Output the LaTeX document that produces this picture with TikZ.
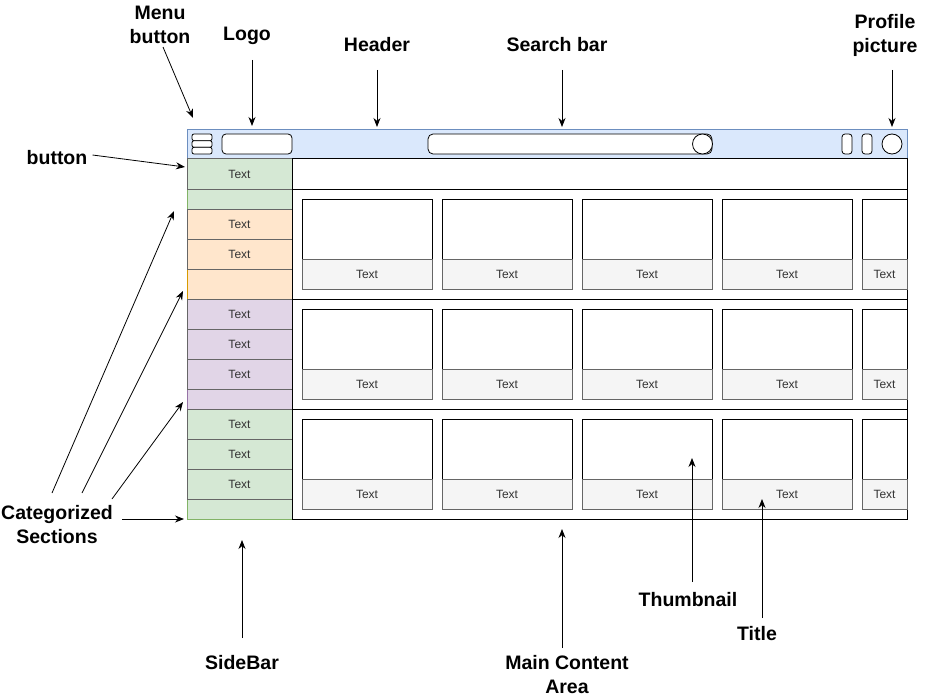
\documentclass[tikz,border=0pt]{standalone}
\usepackage{fontspec}
\setmainfont{Liberation Sans}
\usetikzlibrary{arrows.meta}
\definecolor{hdrfill}{HTML}{DAE8FC}
\definecolor{hdrline}{HTML}{6C8EBF}
\definecolor{gfill}{HTML}{D5E8D4}
\definecolor{gline}{HTML}{82B366}
\definecolor{ofill}{HTML}{FFE6CC}
\definecolor{oline}{HTML}{D79B00}
\definecolor{pfill}{HTML}{E1D5E7}
\definecolor{pline}{HTML}{9673A6}
\definecolor{cellline}{HTML}{666666}
\definecolor{txtgray}{HTML}{333333}
\definecolor{titlefill}{HTML}{F5F5F5}
\tikzset{
  box/.style={anchor=north west, inner sep=0pt, outer sep=0pt, line width=1pt},
  sect/.style={box, minimum width=105pt},
  cell/.style={box, draw=cellline, minimum width=105pt, minimum height=30pt,
    font=\fontsize{12}{14}\selectfont, text=txtgray},
  row/.style={box, draw=black, fill=white, minimum width=615pt},
  thumb/.style={box, draw=black, fill=white, minimum height=60pt},
  titlebox/.style={box, draw=cellline, fill=titlefill, minimum height=30pt,
    font=\fontsize{12}{14}\selectfont, text=txtgray},
  icon/.style={box, draw=black, fill=white, rounded corners=3pt, line width=0.8pt},
  ring/.style={circle, draw=black, fill=white, inner sep=0pt, minimum size=20pt, line width=0.8pt},
  lbl/.style={font=\bfseries\fontsize{19.5}{24}\selectfont, align=center, inner sep=0pt},
  conn/.style={-{Stealth[length=9pt,width=7pt]}, line width=0.8pt, black},
}
\begin{document}
\begin{tikzpicture}[x=1pt,y=-1pt]
\useasboundingbox (0,0) rectangle (940,698);
% header
\node[box, draw=hdrline, fill=hdrfill, minimum width=720pt, minimum height=29pt] (header) at (187,130) {};
\node[icon, minimum width=20pt, minimum height=6.67pt, rounded corners=2pt] (ham1) at (192,134) {};
\node[icon, minimum width=20pt, minimum height=6.67pt, rounded corners=2pt] (ham2) at (192,140.67) {};
\node[icon, minimum width=20pt, minimum height=6.67pt, rounded corners=2pt] (ham3) at (192,147.33) {};
\node[icon, minimum width=70pt, minimum height=20pt, rounded corners=4pt] (logo) at (222,134) {};
\node[icon, minimum width=284pt, minimum height=20pt, rounded corners=5pt] (search) at (428,134) {};
\node[ring] (searchbtn) at (702.5,144) {};
\node[icon, minimum width=10pt, minimum height=20pt] (ic1) at (842,134) {};
\node[icon, minimum width=10pt, minimum height=20pt] (ic2) at (862,134) {};
\node[ring] (profile) at (892,144) {};
% sidebar sections
\node[sect, draw=gline, fill=gfill, minimum height=50pt] (sec1) at (187,159) {};
\node[sect, draw=oline, fill=ofill, minimum height=90pt] (sec2) at (187,209) {};
\node[sect, draw=pline, fill=pfill, minimum height=110pt] (sec3) at (187,299) {};
\node[sect, draw=gline, fill=gfill, minimum height=110pt] (sec4) at (187,409) {};
\node[cell, fill=gfill] (c11) at (187,159) {Text};
\node[cell, fill=ofill] (c21) at (187,209) {Text};
\node[cell, fill=ofill] (c22) at (187,239) {Text};
\node[cell, fill=pfill] (c31) at (187,299) {Text};
\node[cell, fill=pfill] (c32) at (187,329) {Text};
\node[cell, fill=pfill] (c33) at (187,359) {Text};
\node[cell, fill=gfill] (c41) at (187,409) {Text};
\node[cell, fill=gfill] (c42) at (187,439) {Text};
\node[cell, fill=gfill] (c43) at (187,469) {Text};
% main area
\node[row, minimum height=30pt] (toprow) at (292,159) {};
\node[row, minimum height=110pt] (row1) at (292,189) {};
\node[row, minimum height=110pt] (row2) at (292,299) {};
\node[row, minimum height=110pt] (row3) at (292,409) {};
\foreach \r/\y in {1/199,2/309,3/419}{
  \foreach \c/\x in {1/302,2/442,3/582,4/722}{
    \node[thumb, minimum width=130pt] (th-\r-\c) at (\x,\y) {};
    \node[titlebox, minimum width=130pt] (ti-\r-\c) at (\x,\y+60) {Text};
  }
  \node[thumb, minimum width=45pt] (th-\r-5) at (862,\y) {};
  \node[titlebox, minimum width=45pt] (ti-\r-5) at (862,\y+60) {Text};
}
% labels
\node[lbl] (lmenu) at (160,25) {Menu\\button};
\node[lbl] (llogo) at (247,36) {Logo};
\node[lbl] (lheader) at (377,45) {Header};
\node[lbl] (lsearch) at (557,45) {Search bar};
\node[lbl] (lprofile) at (885,35) {Profile\\picture};
\node[lbl] (lbutton) at (57,158) {button};
\node[lbl] (lcat) at (57,525) {Categorized\\Sections};
\node[lbl] (lside) at (242,663) {SideBar};
\node[lbl] (lmain) at (567,675) {Main Content\\Area};
\node[lbl] (lthumb) at (688,600) {Thumbnail};
\node[lbl] (ltitle) at (757,634) {Title};
% arrow ends
\coordinate (amenu) at (193,118);
\coordinate (alogo) at (252,126);
\coordinate (aheader) at (377,127);
\coordinate (asearch) at (562,127);
\coordinate (aprofile) at (892,127);
\coordinate (abutton) at (185,167);
\coordinate (acat1) at (174,211);
\coordinate (acat2) at (183,291);
\coordinate (acat3) at (183,402);
\coordinate (acat4) at (184,519);
\coordinate (aside) at (242,540);
\coordinate (amain) at (562,529);
\coordinate (athumb) at (692,458);
\coordinate (atitle) at (762,499);
\draw[conn] ([xshift=3pt,yshift=-3pt]lmenu.south) -- (amenu);
\draw[conn] (252,60) -- (alogo);
\draw[conn] (377,70) -- (aheader);
\draw[conn] (562,70) -- (asearch);
\draw[conn] (892,70) -- (aprofile);
\draw[conn] ([xshift=5pt,yshift=3pt]lbutton.east) -- (abutton);
\draw[conn] (52,493) -- (acat1);
\draw[conn] (82,493) -- (acat2);
\draw[conn] (112,499) -- (acat3);
\draw[conn] (122,519) -- (acat4);
\draw[conn] (242,638) -- (aside);
\draw[conn] (562,648) -- (amain);
\draw[conn] (692,582) -- (athumb);
\draw[conn] (762,618) -- (atitle);
\end{tikzpicture}
\end{document}
